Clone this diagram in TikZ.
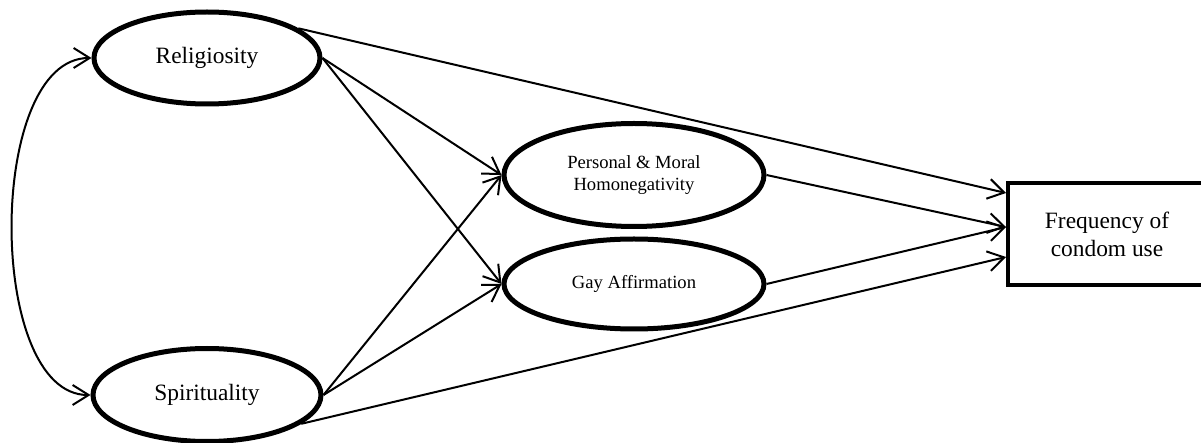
\documentclass[tikz,border=0pt]{standalone}
\usepackage{fontspec}
\setmainfont{Liberation Serif}
\usetikzlibrary{shapes.geometric,arrows.meta,calc}
\begin{document}
\begin{tikzpicture}[x=0.5pt,y=-0.5pt,
  lat/.style={ellipse,draw,line width=2.5pt,inner sep=0pt,align=center},
  big/.style={font=\fontsize{11.7}{14}\selectfont},
  small/.style={font=\fontsize{9.3}{11}\selectfont},
  barb/.tip={Straight Barb[length=8pt,width=10pt]},
  conn/.style={line width=1pt,-barb},
  biconn/.style={line width=1pt,barb-barb},
]
\useasboundingbox (0,0) rectangle (1201,443);
\node[lat,big,minimum width=113pt,minimum height=46pt] (rel) at (207,58) {Religiosity};
\node[lat,big,minimum width=114pt,minimum height=46.5pt] (spi) at (207,395) {Spirituality};
\node[lat,small,minimum width=130pt,minimum height=51.5pt] (pm) at (634,175) {Personal \& Moral\\Homonegativity};
\node[lat,small,minimum width=130pt,minimum height=45pt] (ga) at (634,284) {Gay Affirmation};
\node[draw,line width=2pt,big,align=center,minimum width=99pt,minimum height=51pt,inner sep=0pt] (box) at (1107,234) {Frequency of\\condom use};
\coordinate (b1) at ($(box.west)+(0,-41)$);
\coordinate (b2) at ($(box.west)+(0,-7)$);
\coordinate (b3) at ($(box.west)+(0,23)$);
\draw[conn] (rel.18) -- (b1);
\draw[conn] (rel.east) -- (pm.west);
\draw[conn] (rel.east) -- (ga.west);
\draw[conn] (spi.east) -- (pm.west);
\draw[conn] (spi.east) -- (ga.west);
\draw[conn] (spi.-17) -- (b3);
\draw[conn] (pm.east) -- (b2);
\draw[conn] (ga.east) -- (b2);
\draw[biconn] (rel.west) .. controls (-14,58) and (-14,395) .. (spi.west);
\end{tikzpicture}
\end{document}
